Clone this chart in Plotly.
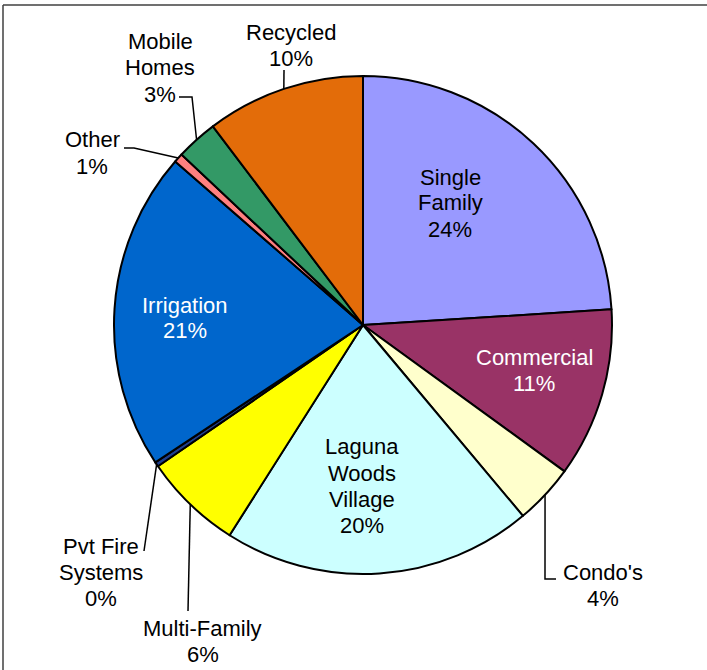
import math
import plotly.graph_objects as go

W, H = 707, 670

# data (% of total, clockwise from 12 o'clock)
labels = ["Single Family", "Commercial", "Condo's", "Laguna Woods Village",
          "Multi-Family", "Pvt Fire Systems", "Irrigation", "Other",
          "Mobile Homes", "Recycled"]
values = [24.0, 11.0, 3.9, 20.1, 6.4, 0.3, 20.7, 0.6, 2.7, 10.3]
colors = ["#9999FF", "#993366", "#FFFFCC", "#CCFFFF", "#FFFF00",
          "#1F3F8F", "#0066CC", "#FF8080", "#339966", "#E36C09"]
display_names = [["Single", "Family"], ["Commercial"], ["Condo's"], ["Laguna", "Woods", "Village"],
                 ["Multi-Family"], ["Pvt Fire", "Systems"], ["Irrigation"], ["Other"],
                 ["Mobile", "Homes"], ["Recycled"]]
text_colors = ["black", "white", "black", "black", "black",
               "black", "white", "black", "black", "black"]

# layout (pixels)
cx, cy, r = 363, 325, 249
line_h = 26
label_pos = {
    "Single Family": (450, 203),
    "Commercial": (534, 370),
    "Condo's": (603, 585),
    "Laguna Woods Village": (362, 486),
    "Multi-Family": (203, 641),
    "Pvt Fire Systems": (101, 572),
    "Irrigation": (185, 318),
    "Other": (92, 153),
    "Mobile Homes": (160, 68),
    "Recycled": (291, 45),
}
# leader line points after the anchor on the pie edge
leader = {
    "Condo's": [(545, 579), (556, 579)],
    "Multi-Family": [(188, 611)],
    "Pvt Fire Systems": [(144, 551)],
    "Other": [(134, 148), (124, 148)],
    "Mobile Homes": [(192, 97), (179, 97)],
    "Recycled": [(284, 70)],
}


def px(x):
    return x / W


def py(y):
    return 1 - y / H


fig = go.Figure(go.Pie(
    labels=labels,
    values=values,
    sort=False,
    direction="clockwise",
    rotation=0,
    marker=dict(colors=colors, line=dict(color="black", width=2)),
    textinfo="none",
    hoverinfo="label+percent",
    domain=dict(x=[px(cx - r), px(cx + r)], y=[py(cy + r), py(cy - r)]),
    showlegend=False,
))

total = sum(values)
cum = 0
for name, v, disp, tc in zip(labels, values, display_names, text_colors):
    mid = (cum + v / 2) / total * 2 * math.pi
    cum += v
    pct = round(v / total * 100)
    lx, ly = label_pos[name]
    lines = disp + [f"{pct}%"]
    top = ly - (len(lines) - 1) * line_h / 2
    for i, t in enumerate(lines):
        fig.add_annotation(
            x=px(lx), y=py(top + i * line_h), xref="paper", yref="paper",
            text=t, showarrow=False,
            font=dict(size=22, color=tc),
            xanchor="center", yanchor="middle",
        )
    if name in leader:
        ax = cx + r * math.sin(mid)
        ay = cy - r * math.cos(mid)
        pts = [(ax, ay)] + leader[name]
        path = "M " + " L ".join(f"{px(x)},{py(y)}" for x, y in pts)
        fig.add_shape(type="path", path=path, xref="paper", yref="paper",
                      line=dict(color="black", width=1.5))

# frame (top and left edges)
fig.add_shape(type="line", xref="paper", yref="paper",
              x0=px(3), y0=py(5), x1=1, y1=py(5),
              line=dict(color="#404040", width=1.5))
fig.add_shape(type="line", xref="paper", yref="paper",
              x0=px(3), y0=py(5), x1=px(3), y1=0,
              line=dict(color="#404040", width=1.5))

fig.update_layout(
    width=W, height=H,
    margin=dict(l=0, r=0, t=0, b=0),
    paper_bgcolor="white",
    plot_bgcolor="white",
    font=dict(family="Liberation Sans, Arial, sans-serif", size=22, color="black"),
)

# drop the page's default body margin so the figure sits at the window's corner
fig.write_html("out.html", config={"displayModeBar": False},
               post_script="document.body.style.margin='0px';")
